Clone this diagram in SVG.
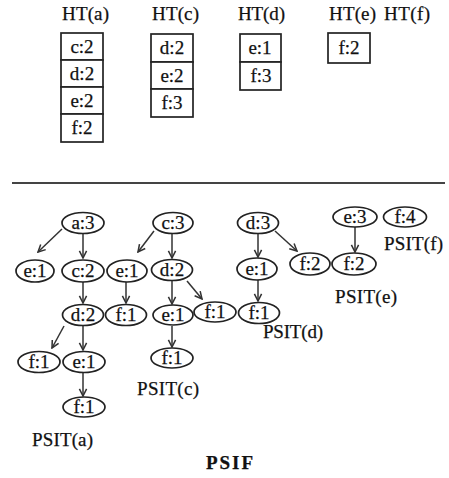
<svg xmlns="http://www.w3.org/2000/svg" width="449" height="478" viewBox="0 0 449 478">
<defs>
<style>
text{font-family:'Liberation Serif','DejaVu Serif','Times New Roman',serif;font-size:19px;fill:#111;stroke:#111;stroke-width:0.25}
.c{text-anchor:middle}
.b{font-weight:bold}
ellipse{fill:#fff;stroke:#222;stroke-width:1.7}
rect{fill:#fff;stroke:#222;stroke-width:1.7}
.e{stroke:#333;stroke-width:1.5;fill:none;marker-end:url(#ah)}
</style>
<marker id="ah" viewBox="0 0 10 10" refX="9" refY="5" markerWidth="9" markerHeight="10" markerUnits="userSpaceOnUse" orient="auto">
<path d="M1,1 L9,5 L1,9" fill="none" stroke="#333" stroke-width="1.7"/>
</marker>
</defs>
<rect width="449" height="478" fill="#fff" style="stroke:none"/>

<g id="ht-a">
<text x="62" y="20" textLength="47">HT(a)</text>
<rect x="61" y="33" width="42" height="27"/><text class="c" x="82" y="53">c:2</text>
<rect x="61" y="60" width="42" height="27"/><text class="c" x="82" y="80">d:2</text>
<rect x="61" y="87" width="42" height="27"/><text class="c" x="82" y="107">e:2</text>
<rect x="61" y="114" width="42" height="28"/><text class="c" x="82" y="134">f:2</text>
</g>
<g id="ht-c">
<text x="152" y="20" textLength="47">HT(c)</text>
<rect x="151" y="34" width="42" height="28"/><text class="c" x="172" y="54">d:2</text>
<rect x="151" y="62" width="42" height="27"/><text class="c" x="172" y="82">e:2</text>
<rect x="151" y="89" width="42" height="28"/><text class="c" x="172" y="109">f:3</text>
</g>
<g id="ht-d">
<text x="238" y="20" textLength="47">HT(d)</text>
<rect x="240" y="34" width="41" height="28"/><text class="c" x="260" y="54">e:1</text>
<rect x="240" y="62" width="41" height="28"/><text class="c" x="261" y="82">f:3</text>
</g>
<g id="ht-e">
<text x="329" y="20" textLength="47">HT(e)</text>
<rect x="328" y="33" width="42" height="30"/><text class="c" x="349" y="54">f:2</text>
</g>
<g id="ht-f">
<text x="384" y="20" textLength="46">HT(f)</text>
</g>

<line x1="12" y1="183" x2="445" y2="183" stroke="#444" stroke-width="2"/>

<g id="connectors">
<line class="e" x1="62" y1="229" x2="38" y2="252"/>
<line class="e" x1="83" y1="233" x2="83" y2="258"/>
<line class="e" x1="83" y1="281" x2="83" y2="303"/>
<line class="e" x1="64" y1="326" x2="52" y2="348"/>
<line class="e" x1="83" y1="325" x2="83" y2="350"/>
<line class="e" x1="83" y1="372" x2="83" y2="396"/>
<line class="e" x1="154" y1="231" x2="138" y2="252"/>
<line class="e" x1="172" y1="233" x2="172" y2="258"/>
<line class="e" x1="126" y1="282" x2="126" y2="303"/>
<line class="e" x1="172" y1="280" x2="172" y2="304"/>
<line class="e" x1="187" y1="281" x2="202" y2="299"/>
<line class="e" x1="172" y1="326" x2="172" y2="347"/>
<line class="e" x1="258" y1="233" x2="258" y2="257"/>
<line class="e" x1="275" y1="231" x2="297" y2="251"/>
<line class="e" x1="258" y1="280" x2="258" y2="301"/>
<line class="e" x1="355" y1="227" x2="355" y2="252"/>
</g>

<g id="psit-a">
<ellipse cx="83" cy="223" rx="21" ry="10.5"/><text class="c" x="83" y="229">a:3</text>
<ellipse cx="35" cy="271" rx="19" ry="11"/><text class="c" x="35" y="277">e:1</text>
<ellipse cx="83" cy="271" rx="21" ry="11"/><text class="c" x="83" y="277">c:2</text>
<ellipse cx="83" cy="315" rx="20.5" ry="10.5"/><text class="c" x="83" y="321">d:2</text>
<ellipse cx="39" cy="362" rx="21" ry="10.5"/><text class="c" x="39" y="368">f:1</text>
<ellipse cx="84" cy="362" rx="21" ry="10.5"/><text class="c" x="84" y="368">e:1</text>
<ellipse cx="84" cy="407" rx="21" ry="10"/><text class="c" x="84" y="413">f:1</text>
<text x="32" y="446" textLength="61">PSIT(a)</text>
</g>
<g id="psit-c">
<ellipse cx="173" cy="223" rx="20" ry="10.5"/><text class="c" x="173" y="229">c:3</text>
<ellipse cx="127" cy="271" rx="20" ry="11"/><text class="c" x="127" y="277">e:1</text>
<ellipse cx="172" cy="270" rx="20.5" ry="10.5"/><text class="c" x="172" y="276">d:2</text>
<ellipse cx="126" cy="315" rx="20.5" ry="10.5"/><text class="c" x="126" y="321">f:1</text>
<ellipse cx="173" cy="315" rx="20" ry="10"/><text class="c" x="173" y="321">e:1</text>
<ellipse cx="215" cy="312" rx="21" ry="10"/><text class="c" x="215" y="318">f:1</text>
<ellipse cx="172" cy="358" rx="21" ry="10"/><text class="c" x="172" y="364">f:1</text>
<text x="137" y="395" textLength="62">PSIT(c)</text>
</g>
<g id="psit-d">
<ellipse cx="258" cy="223" rx="20.5" ry="10.5"/><text class="c" x="258" y="229">d:3</text>
<ellipse cx="257" cy="269" rx="20" ry="11"/><text class="c" x="257" y="275">e:1</text>
<ellipse cx="310" cy="264" rx="20" ry="11"/><text class="c" x="310" y="270">f:2</text>
<ellipse cx="259" cy="313" rx="20.5" ry="10.5"/><text class="c" x="259" y="319">f:1</text>
<text x="263" y="338" textLength="60">PSIT(d)</text>
</g>
<g id="psit-e">
<ellipse cx="355" cy="217" rx="22" ry="10"/><text class="c" x="355" y="223">e:3</text>
<ellipse cx="354" cy="264" rx="22" ry="11"/><text class="c" x="354" y="270">f:2</text>
<text x="335" y="303" textLength="62">PSIT(e)</text>
</g>
<g id="psit-f">
<ellipse cx="405" cy="217" rx="21.5" ry="10"/><text class="c" x="405" y="223">f:4</text>
<text x="384" y="250" textLength="59">PSIT(f)</text>
</g>
<text class="b" x="206" y="469" textLength="47">PSIF</text>
</svg>
